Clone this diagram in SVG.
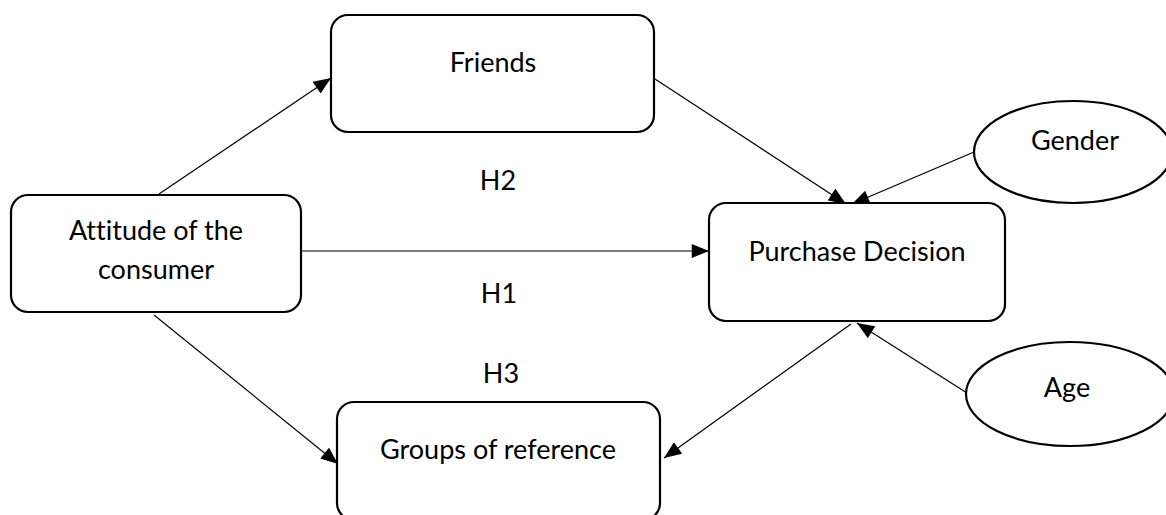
<svg xmlns="http://www.w3.org/2000/svg" width="1166" height="515" viewBox="0 0 1166 515">
<defs>
<style>
.box{fill:#fff;stroke:#000;stroke-width:2.2}
.lbl{font-family:Lato,"Open Sans",sans-serif;font-size:27px;fill:#000;text-anchor:middle;font-variant-ligatures:none;font-feature-settings:"liga" 0,"clig" 0}
.edge{stroke:#000;stroke-width:1.2;fill:none;marker-end:url(#ah)}
</style>
<marker id="ah" markerUnits="userSpaceOnUse" markerWidth="18" markerHeight="14" refX="16" refY="6.5" orient="auto" viewBox="0 0 16 13">
<path d="M0,0 L16,6.5 L0,13 Z" fill="#000"/>
</marker>
</defs>
<rect width="1166" height="515" fill="#fff"/>
<g id="connectors">
<line class="edge" x1="159" y1="194" x2="331" y2="78"/>
<line class="edge" x1="655" y1="79" x2="846" y2="204"/>
<line class="edge" x1="974" y1="152" x2="852" y2="204"/>
<line class="edge" x1="302" y1="251" x2="709" y2="251"/>
<line class="edge" x1="154" y1="315" x2="338" y2="464"/>
<line class="edge" x1="851" y1="324" x2="664" y2="458"/>
<line class="edge" x1="967" y1="393" x2="857" y2="323"/>
</g>
<g id="attitude">
<rect class="box" x="11" y="195" width="290" height="117" rx="17"/>
<text class="lbl" x="156" y="240">Attitude of the</text>
<text class="lbl" x="156" y="279">consumer</text>
</g>
<g id="friends">
<rect class="box" x="331" y="15" width="323" height="117" rx="17"/>
<text class="lbl" x="493" y="72">Friends</text>
</g>
<g id="purchase">
<rect class="box" x="709" y="203" width="296" height="118" rx="17"/>
<text class="lbl" x="857" y="261">Purchase Decision</text>
</g>
<g id="gender">
<ellipse class="box" cx="1073" cy="152" rx="99" ry="51"/>
<text class="lbl" x="1075" y="150">Gender</text>
</g>
<g id="age">
<ellipse class="box" cx="1070" cy="394" rx="104" ry="52"/>
<text class="lbl" x="1067" y="397">Age</text>
</g>
<g id="groups">
<rect class="box" x="337" y="402" width="323" height="118" rx="17"/>
<text class="lbl" x="498" y="459">Groups of reference</text>
</g>
<g id="labels">
<text class="lbl" x="498" y="190">H2</text>
<text class="lbl" x="499" y="303">H1</text>
<text class="lbl" x="501" y="383">H3</text>
</g>
</svg>
